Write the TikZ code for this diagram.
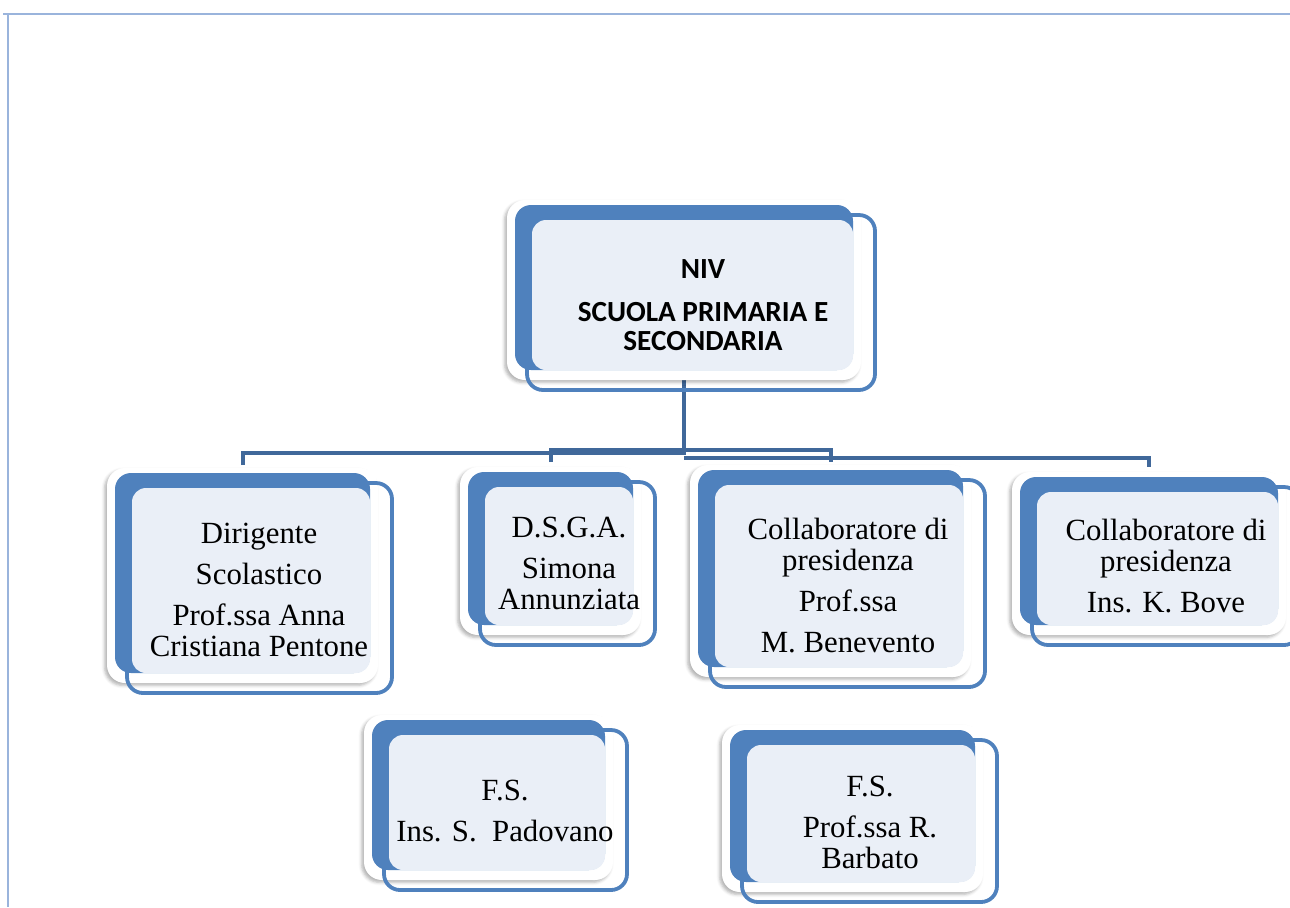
\documentclass[tikz,border=0pt]{standalone}
\usepackage{fontspec}
\setmainfont{Liberation Serif}
\newfontfamily\titlefont{Carlito}
\usetikzlibrary{backgrounds,shadows.blur}
\definecolor{boxblue}{HTML}{4F81BD}
\definecolor{boxlight}{HTML}{EAEFF7}
\definecolor{linkblue}{HTML}{40689A}
\definecolor{framecol}{HTML}{9AB4DC}
% name, x0, y0, x1, y1 (pixels, y down)
\newcommand{\orgbox}[5]{%
  \pgfmathsetmacro\bw{(#4-#2)/2}\pgfmathsetmacro\bh{(#5-#3)/2}%
  \fill[backdrop] (#2-8,#3-5) rectangle (#4+8,#5+10);
  \node[bluebox, minimum width=\bw pt, minimum height=\bh pt, anchor=north west] (#1) at (#2,#3) {};
  \fill[lightfill] ([shift={(17,15)}]#1.north west) rectangle (#1.south east);
  \draw[outline] ([shift={(12,10)}]#1.north west) rectangle ([shift={(22,20)}]#1.south east);
}
\begin{document}
\begin{tikzpicture}[x=0.5pt, y=-0.5pt, line join=round,
    backdrop/.style={white, rounded corners=9pt, blur shadow={shadow xshift=-1.2pt, shadow yshift=-1.2pt, shadow blur radius=1.5pt, shadow opacity=30}},
    bluebox/.style={fill=boxblue, rounded corners=8pt, inner sep=0pt, outer sep=0pt},
    lightfill/.style={boxlight, rounded corners=7pt},
    outline/.style={boxblue, line width=1.9pt, rounded corners=8pt},
    conn/.style={linkblue, line width=2pt},
    lbl/.style={align=center, inner sep=0pt, font=\fontsize{15.4}{15.5}\selectfont},
    toplbl/.style={align=center, inner sep=0pt, font=\titlefont\bfseries\fontsize{14.6}{14.5}\selectfont}]
  \useasboundingbox (0,0) rectangle (1290,907);
  \draw[framecol, line width=1.2pt] (3,14) -- (1290,14);
  \draw[framecol, line width=1.2pt] (8,14) -- (8,907);

  \orgbox{niv}{515}{205}{853}{370}
  \orgbox{dirigente}{115}{473}{370}{673}
  \orgbox{dsga}{468}{472}{633}{625}
  \orgbox{collabA}{698}{470}{963}{667}
  \orgbox{collabB}{1020}{477}{1278}{625}
  \orgbox{fsA}{372}{720}{605}{870}
  \orgbox{fsB}{730}{730}{975}{882}

  \node[toplbl] (niv-t) at (703,305) {NIV\\[7pt]SCUOLA PRIMARIA E\\SECONDARIA};
  \node[lbl] (dirigente-t) at (259,590) {Dirigente\\[5pt]Scolastico\\[5pt]Prof.ssa Anna\\Cristiana Pentone};
  \node[lbl] (dsga-t) at (569,563) {D.S.G.A.\\[5pt]Simona\\Annunziata};
  \node[lbl] (collabA-t) at (848,586) {Collaboratore di\\presidenza\\[5pt]Prof.ssa\\[5pt]M. Benevento};
  \node[lbl] (collabB-t) at (1166,566) {Collaboratore di\\presidenza\\[5pt]Ins. K. Bove};
  \node[lbl] (fsA-t) at (505,811) {F.S.\\[5pt]Ins. S.\ \ Padovano};
  \node[lbl] (fsB-t) at (870,822) {F.S.\\[5pt]Prof.ssa R.\\Barbato};

  \begin{pgfonlayer}{background}
    \draw[conn] ([shift={(0,-8)}]dirigente.north) |- (niv.south |- 0,453) -- (niv.south);
    \draw[conn] ([shift={(0,-10)}]dsga.north) |- ([shift={(0,-20)}]collabA.north) -- ([shift={(0,-8)}]collabA.north);
    \draw[conn] (niv.south |- 0,458) -| ([shift={(0,-10)}]collabB.north);
  \end{pgfonlayer}
\end{tikzpicture}
\end{document}
